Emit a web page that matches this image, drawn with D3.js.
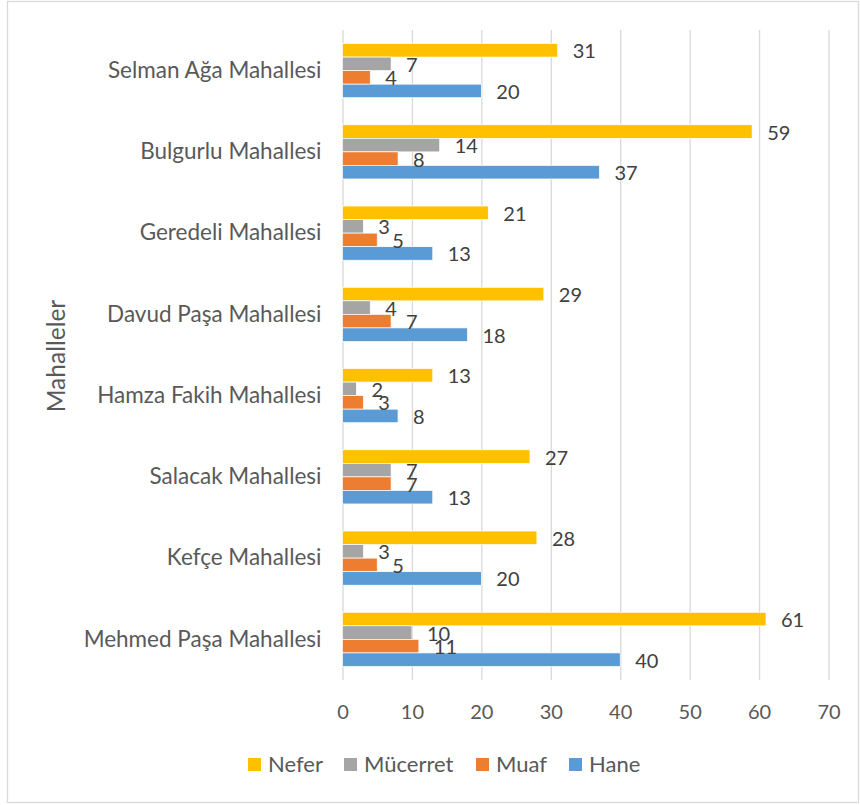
<!DOCTYPE html>
<html>
<head>
<meta charset="utf-8">
<script src="https://cdn.jsdelivr.net/npm/d3@7"></script>
<style>
  body { margin: 0; background: #fff; }
  svg text { font-family: Lato, "Open Sans", sans-serif; }
</style>
</head>
<body>
<div id="chart"></div>
<script>
// data, top to bottom as in the picture
const categories = ['Selman Ağa Mahallesi', 'Bulgurlu Mahallesi', 'Geredeli Mahallesi', 'Davud Paşa Mahallesi',
  'Hamza Fakih Mahallesi', 'Salacak Mahallesi', 'Kefçe Mahallesi', 'Mehmed Paşa Mahallesi'];
const nefer    = [31, 59, 21, 29, 13, 27, 28, 61];
const mucerret = [7, 14, 3, 4, 2, 7, 3, 10];
const muaf     = [4, 8, 5, 7, 3, 7, 5, 11];
const hane     = [20, 37, 13, 18, 8, 13, 20, 40];
const seriesNames = ['Nefer', 'Mücerret', 'Muaf', 'Hane'];
const xTicks = [0, 10, 20, 30, 40, 50, 60, 70];
const axisTitle = 'Mahalleler';

const colors = {Nefer:'#FFC000', 'Mücerret':'#A5A5A5', Muaf:'#ED7D31', Hane:'#5B9BD5'};
const seriesValues = {Nefer:nefer, 'Mücerret':mucerret, Muaf:muaf, Hane:hane};

const width = 860, height = 805;
const plotTop = 30, plotBottom = 680, plotLeft = 342.5, plotRight = 828.5;

const svg = d3.select('#chart').append('svg')
  .attr('width', width)
  .attr('height', height);

// chart border
svg.append('rect')
  .attr('x', 7.5).attr('y', 1.5)
  .attr('width', 851).attr('height', 801)
  .attr('fill', '#fff')
  .attr('stroke', '#d9d9d9')
  .attr('stroke-width', 1.3);

const scaleX = d3.scaleLinear().domain([0, 70]).range([plotLeft, plotRight]);
const scaleY = d3.scaleBand().domain(categories).range([plotTop, plotBottom])
  .paddingInner(1/3).paddingOuter(1/6);
const scaleS = d3.scaleBand().domain(seriesNames).range([0, scaleY.bandwidth()]);

// gridlines
const grid = svg.append('g')
  .attr('class', 'grid')
  .attr('transform', `translate(0,${plotBottom})`)
  .call(d3.axisBottom(scaleX).tickValues(xTicks).tickSize(-(plotBottom - plotTop)).tickFormat(''));
grid.select('.domain').remove();
grid.selectAll('line').attr('stroke', '#d9d9d9').attr('stroke-width', 1.3);

// x tick labels
const axisX = svg.append('g')
  .attr('transform', `translate(0,${plotBottom})`)
  .call(d3.axisBottom(scaleX).tickValues(xTicks).tickSize(0).tickPadding(25));
axisX.select('.domain').remove();
axisX.selectAll('text').attr('font-size', 20).attr('fill', '#595959');

// category labels
const axisY = svg.append('g')
  .attr('transform', `translate(${plotLeft},0)`)
  .call(d3.axisLeft(scaleY).tickSize(0).tickPadding(21));
axisY.select('.domain').remove();
axisY.selectAll('text').attr('font-size', 22.5).attr('fill', '#595959');

// axis title
svg.append('text')
  .attr('transform', 'translate(65,356) rotate(-90)')
  .attr('text-anchor', 'middle')
  .attr('font-size', 24.5)
  .attr('fill', '#595959')
  .text(axisTitle);

// bars
const rows = categories.map((c, i) => ({
  cat: c,
  vals: seriesNames.map(s => ({series: s, value: seriesValues[s][i]}))
}));

const groups = svg.selectAll('.group')
  .data(rows)
  .enter()
  .append('g')
  .attr('class', 'group')
  .attr('transform', d => `translate(0,${scaleY(d.cat)})`);

groups.selectAll('rect')
  .data(d => d.vals)
  .enter()
  .append('rect')
  .attr('x', scaleX(0))
  .attr('y', d => scaleS(d.series))
  .attr('width', d => scaleX(d.value) - scaleX(0))
  .attr('height', scaleS.bandwidth())
  .attr('fill', d => colors[d.series])
  .attr('stroke', '#fff')
  .attr('stroke-width', 0.7);

groups.selectAll('.label')
  .data(d => d.vals)
  .enter()
  .append('text')
  .attr('class', 'label')
  .attr('x', d => scaleX(d.value) + 15)
  .attr('y', d => scaleS(d.series) + scaleS.bandwidth() / 2 + 1)
  .attr('dy', '0.35em')
  .attr('font-size', 20)
  .attr('fill', '#404040')
  .text(d => d.value);

// legend
const legendX = [248, 344, 476, 569];
const legend = svg.selectAll('.legend')
  .data(seriesNames)
  .enter()
  .append('g')
  .attr('class', 'legend')
  .attr('transform', (d, i) => `translate(${legendX[i]},758)`);
legend.append('rect')
  .attr('width', 13).attr('height', 13)
  .attr('fill', d => colors[d]);
legend.append('text')
  .attr('x', 20)
  .attr('y', 6.5)
  .attr('dy', '0.35em')
  .attr('font-size', 22)
  .attr('fill', '#595959')
  .text(d => d);
</script>
</body>
</html>
